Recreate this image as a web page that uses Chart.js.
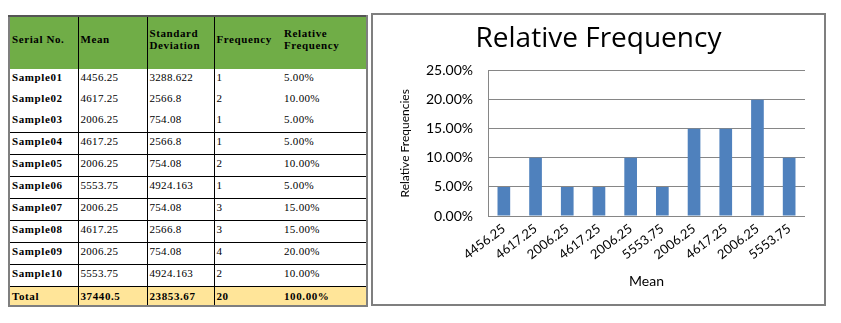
<!DOCTYPE html>
<html>
<head>
<meta charset="utf-8">
<title>Relative Frequency</title>
<script src="https://cdn.jsdelivr.net/npm/chart.js@4/dist/chart.umd.min.js"></script>
<style>
  body { margin: 0; background: #fff; width: 841px; height: 323px; overflow: hidden; position: relative; }

  /* summary table */
  #stats {
    position: absolute; left: 8px; top: 15px;
    border-collapse: collapse; table-layout: fixed;
    width: 358px;
    border-left: 2px solid #7f7f7f; border-right: 2px solid #7f7f7f;
    border-top: 2px solid #555; border-bottom: 2px solid #7f7f7f;
    font-family: "Liberation Serif", "Times New Roman", serif;
    font-size: 11px; color: #000;
  }
  #stats td { padding: 0 0 0 2px; white-space: nowrap; letter-spacing: 0.3px; }
  #stats td.b { border-left: 1px solid #000; }
  #stats tr.head td { background: #70ad47; height: 44px; padding-bottom: 8px; vertical-align: middle; font-weight: bold; white-space: normal; line-height: 12px; letter-spacing: 0.6px; }
  #stats tr.row td { height: 19px; padding-top: 2px; vertical-align: top; }
  #stats tr.row.lined td { border-bottom: 1px solid #000; }
  #stats tr.row td:first-child { font-weight: bold; letter-spacing: 0.6px; }
  #stats tr.total td { background: #ffe599; height: 18px; vertical-align: middle; font-weight: bold; letter-spacing: 0.6px; }
  #stats td.rel { padding-left: 3px; }

  /* chart frame */
  #frame {
    position: absolute; left: 371px; top: 13px;
    width: 451px; height: 289px;
    border: 2px solid #7f7f7f; background: #fff;
  }
</style>
</head>
<body>

<table id="stats">
  <colgroup>
    <col style="width:69px"><col style="width:69px"><col style="width:67px"><col style="width:67px"><col style="width:86px">
  </colgroup>
  <tbody id="stats-body"></tbody>
</table>

<div id="frame"><canvas id="chart"></canvas></div>

<script>
// Sample statistics

const serials = ["Sample01", "Sample02", "Sample03", "Sample04", "Sample05",
    "Sample06", "Sample07", "Sample08", "Sample09", "Sample10"];
const means = ["4456.25", "4617.25", "2006.25", "4617.25", "2006.25",
    "5553.75", "2006.25", "4617.25", "2006.25", "5553.75"];
const stdDevs = ["3288.622", "2566.8", "754.08", "2566.8", "754.08",
    "4924.163", "754.08", "2566.8", "754.08", "4924.163"];
const frequencies = [1, 2, 1, 1, 2, 1, 3, 3, 4, 2];
const relFrequencies = [5, 10, 5, 5, 10, 5, 15, 15, 20, 10];   // percent
const totals = ["Total", "37440.5", "23853.67", "20", "100.00%"];
const headers = ["Serial No.", "Mean", "Standard Deviation", "Frequency", "Relative Frequency"];
const yTicks = [0, 5, 10, 15, 20, 25];

const pct = v => v.toFixed(2) + "%";

// Table

const body = document.querySelector("#stats-body");

function addRow(cells, cls) {
    const tr = document.createElement("tr");
    tr.className = cls;
    cells.forEach((text, i) => {
        const td = document.createElement("td");
        td.textContent = text;
        if (i >= 1 && i <= 3) td.className = "b";
        if (i === 4) td.className = "rel";
        tr.appendChild(td);
    });
    body.appendChild(tr);
}

addRow(headers, "head");
serials.forEach((s, i) => {
    addRow([s, means[i], stdDevs[i], frequencies[i], pct(relFrequencies[i])], i >= 2 ? "row lined" : "row");
});
addRow(totals, "total");

// Bar Chart

const chart = document.querySelector("#chart").getContext("2d");
const gridGray = "#868686";

new Chart(chart, {
    type: "bar",
    data: {
        labels: means,
        datasets: [
            {
                label: "Relative Frequency",
                data: relFrequencies,
                backgroundColor: "#4f81bd",
                borderWidth: 0,
                categoryPercentage: 1,
                barPercentage: 0.4
            }
        ]
    },
    options: {
        responsive: true,
        maintainAspectRatio: false,
        animation: false,
        layout: { padding: 0 },
        plugins: {
            legend: { display: false },
            tooltip: { enabled: false },
            title: {
                display: true,
                text: "Relative Frequency",
                color: "#000",
                font: { family: "Open Sans", size: 28, weight: "normal", lineHeight: 1.2 },
                padding: { top: 7, bottom: 15 }
            }
        },
        scales: {
            x: {
                grid: { display: false, drawTicks: false },
                border: { display: false },
                ticks: {
                    color: "#000",
                    font: { family: "Lato", size: 13 },
                    minRotation: 37,
                    maxRotation: 37,
                    autoSkip: false,
                    padding: 5
                },
                title: {
                    display: true,
                    text: "Mean",
                    color: "#000",
                    font: { family: "Lato", size: 14 },
                    padding: { top: 0, bottom: 14 }
                },
                afterFit: scale => { scale.height = 88; }
            },
            y: {
                min: 0,
                max: 25,
                afterBuildTicks: scale => { scale.ticks = yTicks.map(v => ({ value: v })); },
                grid: { color: gridGray, lineWidth: 1, drawTicks: false },
                border: { display: true, color: gridGray, width: 1 },
                ticks: {
                    color: "#000",
                    font: { family: "Lato", size: 14 },
                    padding: 15,
                    callback: v => pct(v)
                },
                title: {
                    display: true,
                    text: "Relative Frequencies",
                    color: "#000",
                    font: { family: "Lato", size: 12 },
                    padding: { top: 25, bottom: 0 }
                },
                afterFit: scale => { scale.width = 115; }
            },
            // blank strip on the right so the title stays centred on the frame
            gap: {
                position: "right",
                grid: { display: false, drawTicks: false },
                border: { display: false },
                ticks: { display: false },
                afterFit: scale => { scale.width = 19; }
            }
        }
    }
});
</script>
</body>
</html>
